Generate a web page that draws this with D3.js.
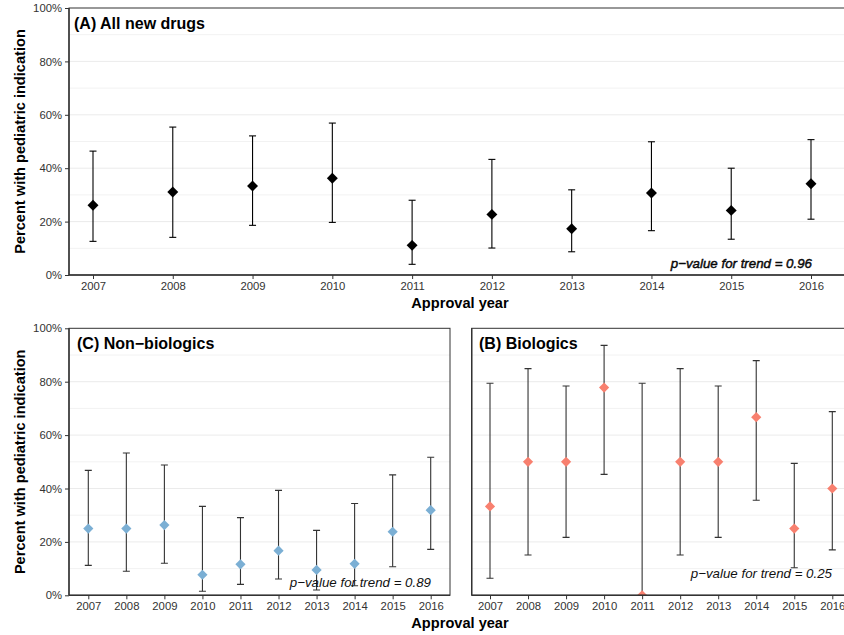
<!DOCTYPE html>
<html><head><meta charset="utf-8">
<script src="https://cdn.jsdelivr.net/npm/d3@7"></script>
<style>body{margin:0;background:#fff}svg{display:block}</style>
</head><body>
<svg id="c" width="844" height="635"></svg>
<script>
const years = ["2007","2008","2009","2010","2011","2012","2013","2014","2015","2016"];
const yTicks = [0, 0.2, 0.4, 0.6, 0.8, 1.0];
const gridVals = [0.1,0.2,0.3,0.4,0.5,0.6,0.7,0.8,0.9];

// (A) All new drugs
const allEst   = [0.261, 0.311, 0.333, 0.362, 0.111, 0.227, 0.173, 0.307, 0.242, 0.342];
const allLow   = [0.126, 0.141, 0.186, 0.197, 0.040, 0.101, 0.087, 0.166, 0.134, 0.209];
const allHigh  = [0.464, 0.554, 0.521, 0.569, 0.280, 0.433, 0.319, 0.499, 0.400, 0.507];

// (C) Non-biologics
const nbEst  = [0.250, 0.250, 0.263, 0.077, 0.116, 0.167, 0.095, 0.118, 0.238, 0.319];
const nbLow  = [0.112, 0.090, 0.120, 0.015, 0.041, 0.061, 0.020, 0.036, 0.107, 0.172];
const nbHigh = [0.468, 0.533, 0.488, 0.333, 0.291, 0.393, 0.243, 0.344, 0.451, 0.517];

// (B) Biologics
const bEst  = [0.333, 0.500, 0.500, 0.778, 0.000, 0.500, 0.500, 0.667, 0.250, 0.400];
const bLow  = [0.064, 0.151, 0.217, 0.453, 0.000, 0.151, 0.217, 0.356, 0.103, 0.170];
const bHigh = [0.794, 0.849, 0.784, 0.936, 0.794, 0.849, 0.784, 0.879, 0.494, 0.688];

const svg = d3.select("#c");
const FONT = "'Liberation Sans', Arial, Helvetica, sans-serif";

function panel(cfg) {
  const g = svg.append("g");
  const x = d3.scalePoint().domain(years).range([cfg.x0, cfg.x1]);
  const y = d3.scaleLinear().domain([0, 1]).range([cfg.bottom, cfg.top]);
  const id = "clip" + cfg.key;
  svg.append("clipPath").attr("id", id).append("rect")
    .attr("x", cfg.left).attr("y", cfg.top).attr("width", cfg.right - cfg.left).attr("height", cfg.bottom - cfg.top);

  // grid
  g.selectAll(".grid").data(gridVals).join("line")
    .attr("x1", cfg.left).attr("x2", cfg.right)
    .attr("y1", d => y(d)).attr("y2", d => y(d))
    .attr("stroke", (d, i) => i % 2 === 1 ? "#ebebeb" : "#f2f2f2").attr("stroke-width", 1);

  const data = years.map((yr, i) => ({yr, est: cfg.est[i], lo: cfg.lo[i], hi: cfg.hi[i]}));
  const pg = g.append("g").attr("clip-path", `url(#${id})`);
  const cap = 3.5;
  const eb = pg.selectAll(".eb").data(data).join("g").attr("stroke", cfg.barColor).attr("stroke-width", 1.1);
  eb.append("line").attr("x1", d => x(d.yr)).attr("x2", d => x(d.yr)).attr("y1", d => y(d.lo)).attr("y2", d => y(d.hi));
  eb.append("line").attr("x1", d => x(d.yr) - cap).attr("x2", d => x(d.yr) + cap).attr("y1", d => y(d.lo)).attr("y2", d => y(d.lo));
  eb.append("line").attr("x1", d => x(d.yr) - cap).attr("x2", d => x(d.yr) + cap).attr("y1", d => y(d.hi)).attr("y2", d => y(d.hi));

  const sym = d3.symbol(d3.symbolSquare, cfg.symSize);
  pg.selectAll(".pt").data(data).join("path")
    .attr("d", sym)
    .attr("transform", d => `translate(${x(d.yr)},${y(d.est)}) rotate(45)`)
    .attr("fill", cfg.color);

  // frame
  g.append("rect").attr("x", cfg.left).attr("y", cfg.top)
    .attr("width", cfg.right - cfg.left).attr("height", cfg.bottom - cfg.top)
    .attr("fill", "none").attr("stroke", "#333").attr("stroke-width", 1);
  g.append("line").attr("x1", cfg.left).attr("x2", cfg.right).attr("y1", cfg.bottom).attr("y2", cfg.bottom)
    .attr("stroke", "#333").attr("stroke-width", 1.6);
  g.append("line").attr("x1", cfg.left).attr("x2", cfg.left).attr("y1", cfg.top).attr("y2", cfg.bottom)
    .attr("stroke", "#333").attr("stroke-width", 1.4);

  // x axis
  const xa = g.append("g").attr("transform", `translate(0,${cfg.bottom})`)
    .call(d3.axisBottom(x).tickSize(4).tickPadding(3));
  xa.select(".domain").remove();
  xa.selectAll("line").attr("stroke", "#333");
  xa.selectAll("text").attr("font-family", FONT).attr("font-size", "11.3px").attr("fill", "#333");

  if (cfg.yAxis) {
    const ya = g.append("g").attr("transform", `translate(${cfg.left},0)`)
      .call(d3.axisLeft(y).tickValues(yTicks).tickFormat(d3.format(".0%")).tickSize(4).tickPadding(3));
    ya.select(".domain").remove();
    ya.selectAll("line").attr("stroke", "#333");
    ya.selectAll("text").attr("font-family", FONT).attr("font-size", "11.3px").attr("fill", "#333");
    g.append("text").attr("transform", `translate(20,${(cfg.top + cfg.bottom) / 2}) rotate(-90)`)
      .attr("text-anchor", "middle").attr("dominant-baseline", "central")
      .attr("font-family", FONT).attr("font-weight", "bold").attr("font-size", "14.6px").attr("fill", "#000")
      .text("Percent with pediatric indication");
  }

  g.append("text").attr("x", cfg.titleX).attr("y", cfg.top + 21)
    .attr("font-family", FONT).attr("font-weight", "bold").attr("font-size", "16px").attr("fill", "#000")
    .text(cfg.title);

  const pv = g.append("text").attr("x", cfg.pX).attr("y", cfg.pY).attr("text-anchor", "end")
    .attr("dominant-baseline", "central")
    .attr("font-family", FONT).attr("font-style", "italic").attr("font-size", "13.3px").attr("fill", "#111")
    .text(cfg.pText);
  if (cfg.pBold) pv.attr("stroke", "#000").attr("stroke-width", 0.45);
}

panel({key: "A", left: 69, right: 851, top: 8, bottom: 275, x0: 93, x1: 811,
  est: allEst, lo: allLow, hi: allHigh, color: "#000", barColor: "#000", symSize: 60,
  yAxis: true, title: "(A) All new drugs", titleX: 74,
  pText: "p\u2212value for trend = 0.96", pX: 812, pY: 263, pBold: true});

panel({key: "C", left: 69, right: 450, top: 328.3, bottom: 595.3, x0: 88.3, x1: 430.7,
  est: nbEst, lo: nbLow, hi: nbHigh, color: "#7BAFD4", barColor: "#333", symSize: 52,
  yAxis: true, title: "(C) Non\u2212biologics", titleX: 77,
  pText: "p\u2212value for trend = 0.89", pX: 431, pY: 582.7});

panel({key: "B", left: 471.7, right: 852, top: 328.3, bottom: 595.3, x0: 490, x1: 832.3,
  est: bEst, lo: bLow, hi: bHigh, color: "#F8806F", barColor: "#333", symSize: 52,
  yAxis: false, title: "(B) Biologics", titleX: 479,
  pText: "p\u2212value for trend = 0.25", pX: 832, pY: 573.3});

// x axis titles
svg.append("text").attr("x", 460).attr("y", 303).attr("text-anchor", "middle").attr("dominant-baseline", "central")
  .attr("font-family", FONT).attr("font-weight", "bold").attr("font-size", "14.6px").text("Approval year");
svg.append("text").attr("x", 460).attr("y", 623).attr("text-anchor", "middle").attr("dominant-baseline", "central")
  .attr("font-family", FONT).attr("font-weight", "bold").attr("font-size", "14.6px").text("Approval year");
</script>
</body></html>
